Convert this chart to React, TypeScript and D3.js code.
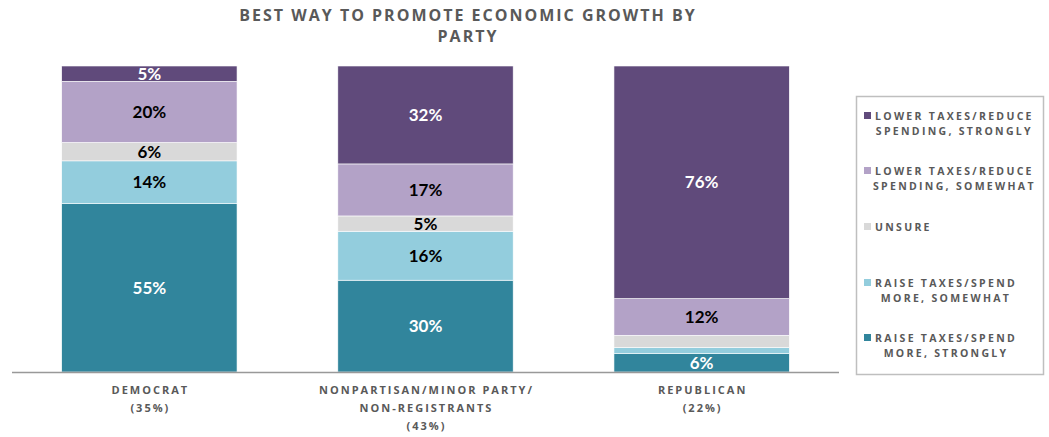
import React, { useEffect, useRef } from "react";
import * as d3 from "d3";

const categories = ["DEMOCRAT", "NONPARTISAN", "REPUBLICAN"];
const categoryLabels = [
  ["DEMOCRAT", "(35%)"],
  ["NONPARTISAN/MINOR PARTY/", "NON-REGISTRANTS", "(43%)"],
  ["REPUBLICAN", "(22%)"],
];
const seriesNames = [
  "RAISE TAXES/SPEND MORE, STRONGLY",
  "RAISE TAXES/SPEND MORE, SOMEWHAT",
  "UNSURE",
  "LOWER TAXES/REDUCE SPENDING, SOMEWHAT",
  "LOWER TAXES/REDUCE SPENDING, STRONGLY",
];
const legendLines = [
  ["RAISE TAXES/SPEND", "MORE, STRONGLY"],
  ["RAISE TAXES/SPEND", "MORE, SOMEWHAT"],
  ["UNSURE"],
  ["LOWER TAXES/REDUCE", "SPENDING, SOMEWHAT"],
  ["LOWER TAXES/REDUCE", "SPENDING, STRONGLY"],
];
const raiseStrongly = [55, 30, 6];
const raiseSomewhat = [14, 16, 2];
const unsure = [6, 5, 4];
const lowerSomewhat = [20, 17, 12];
const lowerStrongly = [5, 32, 76];
const showLabel = [
  [true, true, true],
  [true, true, false],
  [true, true, false],
  [true, true, true],
  [true, true, true],
];
const colors = ["#31859C", "#93CDDD", "#D9D9D9", "#B3A2C7", "#604A7B"];
const labelColors = ["#FFFFFF", "#000000", "#000000", "#000000", "#FFFFFF"];
const titleLines = ["BEST WAY TO PROMOTE ECONOMIC GROWTH BY", "PARTY"];

export default function App() {
  const ref = useRef<SVGSVGElement>(null);
  useEffect(() => {
    const svg = d3.select(ref.current);
    svg.selectAll("*").remove();
    const W = 1049, H = 437;
    const x = d3.scaleBand().domain(categories).range([12, 839]).paddingInner(0.365).paddingOuter(0.18);
    const y = d3.scaleLinear().domain([0, 100]).range([372, 66]);
    const data = categories.map((c, i) => ({
      cat: c,
      s0: raiseStrongly[i], s1: raiseSomewhat[i], s2: unsure[i], s3: lowerSomewhat[i], s4: lowerStrongly[i],
    }));
    const keys = ["s0", "s1", "s2", "s3", "s4"];
    const stacked = d3.stack<any>().keys(keys)(data);

    svg.append("rect").attr("width", W).attr("height", H).attr("fill", "#fff");

    const title = svg.append("text").attr("text-anchor", "middle")
      .attr("font-family", "Open Sans").attr("font-weight", "bold").attr("font-size", 16)
      .attr("letter-spacing", 2).attr("fill", "#595959");
    titleLines.forEach((t, i) => {
      title.append("tspan").attr("x", 468).attr("y", 21 + i * 21).text(t);
    });

    stacked.forEach((layer, li) => {
      const g = svg.append("g");
      layer.forEach((d, ci) => {
        g.append("rect")
          .attr("x", x(categories[ci])!)
          .attr("width", x.bandwidth())
          .attr("y", y(d[1]))
          .attr("height", y(d[0]) - y(d[1]))
          .attr("fill", colors[li])
          .attr("stroke", "#ffffff").attr("stroke-width", 0.6);
      });
    });
    stacked.forEach((layer, li) => {
      layer.forEach((d, ci) => {
        if (!showLabel[li][ci]) return;
        const v = d[1] - d[0];
        svg.append("text")
          .attr("x", x(categories[ci])! + x.bandwidth() / 2)
          .attr("y", (y(d[0]) + y(d[1])) / 2)
          .attr("dy", "0.36em")
          .attr("text-anchor", "middle")
          .attr("font-family", "Lato").attr("font-weight", "bold").attr("font-size", 17)
          .attr("fill", labelColors[li])
          .text(`${v}%`);
      });
    });

    svg.append("line").attr("x1", 12).attr("x2", 839).attr("y1", 372.5).attr("y2", 372.5)
      .attr("stroke", "#999999").attr("stroke-width", 1.5);

    categories.forEach((c, i) => {
      const t = svg.append("text").attr("text-anchor", "middle")
        .attr("font-family", "Open Sans").attr("font-weight", "bold").attr("font-size", 11)
        .attr("letter-spacing", 2).attr("fill", "#595959");
      categoryLabels[i].forEach((line, k) => {
        t.append("tspan").attr("x", x(c)! + x.bandwidth() / 2 + 1).attr("y", 394 + k * 18).text(line);
      });
    });

    // legend
    svg.append("rect").attr("x", 856.5).attr("y", 96.5).attr("width", 187).attr("height", 278)
      .attr("fill", "#fff").attr("stroke", "#BFBFBF").attr("stroke-width", 1.5);
    const legendY = [338, 283, 227, 171, 116];
    legendLines.forEach((lines, i) => {
      const ly = legendY[i];
      svg.append("rect").attr("x", 864).attr("y", ly - 4).attr("width", 7).attr("height", 7).attr("fill", colors[i]);
      const first = svg.append("text").attr("x", 875).attr("y", ly + 4)
        .attr("font-family", "Open Sans").attr("font-weight", "bold").attr("font-size", 10.5)
        .attr("letter-spacing", 2.3).attr("fill", "#595959").text(lines[0]);
      if (lines[1]) {
        const w = (first.node() as SVGTextElement).getComputedTextLength();
        svg.append("text").attr("x", 875 + w / 2).attr("y", ly + 19).attr("text-anchor", "middle")
          .attr("font-family", "Open Sans").attr("font-weight", "bold").attr("font-size", 10.5)
          .attr("letter-spacing", 2.3).attr("fill", "#595959").text(lines[1]);
      }
    });
  }, []);
  return (
    <svg ref={ref} width={1049} height={437} style={{ position: "absolute", left: 0, top: 0 }} />
  );
}
